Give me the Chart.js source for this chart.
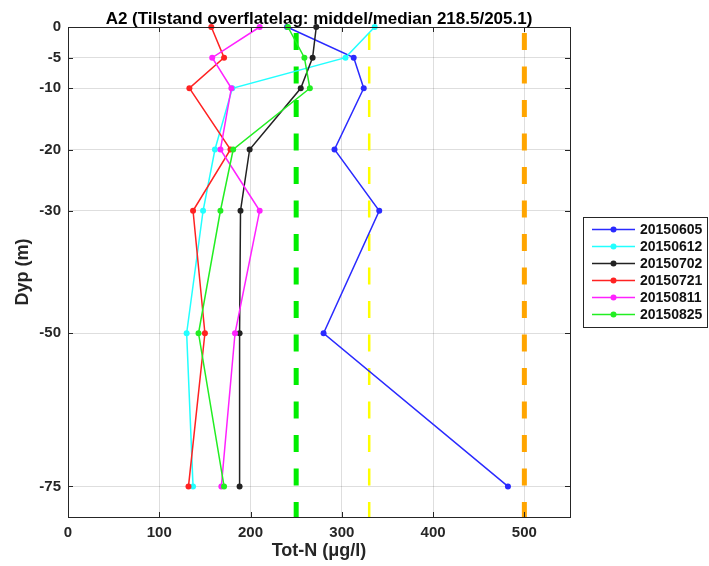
<!DOCTYPE html>
<html>
<head>
<meta charset="utf-8">
<script src="https://cdn.jsdelivr.net/npm/chart.js@4"></script>
<style>
  body { margin: 0; background: #fff; }
  canvas { display: block; }
</style>
</head>
<body>
<canvas id="chart" width="709" height="566"></canvas>
<script>
const depths = [0, -5, -10, -20, -30, -50, -75];
const dates = ["20150605", "20150612", "20150702", "20150721", "20150811", "20150825"];
const s20150605 = [240, 313, 324, 292, 341, 280, 482];
const s20150612 = [336, 304, 180, 161, 148, 130, 137];
const s20150702 = [272, 268, 255, 199, 189, 188, 188];
const s20150721 = [157, 171, 133, 178, 137, 150, 132];
const s20150811 = [210, 158, 179, 167, 210, 183, 168];
const s20150825 = [241, 259, 265, 181, 167, 143, 171];
const limits = [250, 330, 500];
const xTicks = [0, 100, 200, 300, 400, 500];
const yTicks = [-75, -50, -30, -20, -10, -5, 0];

const seriesValues = [s20150605, s20150612, s20150702, s20150721, s20150811, s20150825];
const colors = ["#2a2aff", "#22ffff", "#222222", "#ff2222", "#ff22ff", "#22ee22"];
const limitColors = ["#00ee00", "#ffff00", "#ffa500"];
const limitWidths = [5, 2.5, 5];
const fontFamily = '"Liberation Sans", Arial, Helvetica, sans-serif';

const datasets = [];
seriesValues.forEach((vals, i) => {
  datasets.push({
    label: dates[i],
    data: vals.map((v, k) => ({ x: v, y: depths[k] })),
    showLine: true,
    clip: false,
    borderColor: colors[i],
    backgroundColor: colors[i],
    borderWidth: 1.5,
    pointRadius: 3,
    pointBorderWidth: 0,
    order: 10 - i,
  });
});
limits.forEach((v, i) => {
  datasets.push({
    label: "limit" + v,
    data: [{ x: v, y: 0 }, { x: v, y: -80 }],
    showLine: true,
    borderColor: limitColors[i],
    borderWidth: limitWidths[i],
    borderDash: [17, 16.5],
    borderDashOffset: 27.5,
    pointRadius: 0,
    order: 100,
  });
});

// frame, inside ticks, titles and legend
const decorations = {
  id: "decorations",
  afterDraw(chart) {
    const ctx = chart.ctx;
    const a = chart.chartArea;
    const xs = chart.scales.x;
    const ys = chart.scales.y;
    ctx.save();
    ctx.strokeStyle = "#262626";
    ctx.lineWidth = 1;
    ctx.strokeRect(Math.round(a.left) + 0.5, Math.round(a.top) + 0.5,
      Math.round(a.right - a.left), Math.round(a.bottom - a.top));
    ctx.beginPath();
    xTicks.forEach((t) => {
      const px = Math.round(xs.getPixelForValue(t)) + 0.5;
      ctx.moveTo(px, a.bottom); ctx.lineTo(px, a.bottom - 5);
      ctx.moveTo(px, a.top); ctx.lineTo(px, a.top + 5);
    });
    yTicks.forEach((t) => {
      const py = Math.round(ys.getPixelForValue(t)) + 0.5;
      ctx.moveTo(a.left, py); ctx.lineTo(a.left + 5, py);
      ctx.moveTo(a.right, py); ctx.lineTo(a.right - 5, py);
    });
    ctx.stroke();

    // title
    ctx.fillStyle = "#000";
    ctx.font = "bold 17px " + fontFamily;
    ctx.textAlign = "center";
    ctx.textBaseline = "middle";
    ctx.fillText("A2 (Tilstand overflatelag: middel/median 218.5/205.1)", (a.left + a.right) / 2, 19);

    // axis titles
    ctx.fillStyle = "#262626";
    ctx.font = "bold 18px " + fontFamily;
    ctx.fillText("Tot-N (\u03bcg/l)", (a.left + a.right) / 2, 551);
    ctx.save();
    ctx.translate(23, (a.top + a.bottom) / 2);
    ctx.rotate(-Math.PI / 2);
    ctx.fillText("Dyp (m)", 0, 0);
    ctx.restore();

    // legend
    const lx = 583, ly = 217, lw = 124, lh = 110;
    ctx.fillStyle = "#fff";
    ctx.fillRect(lx, ly, lw, lh);
    ctx.strokeStyle = "#262626";
    ctx.strokeRect(lx + 0.5, ly + 0.5, lw, lh);
    ctx.font = "bold 14px " + fontFamily;
    ctx.textAlign = "left";
    dates.forEach((d, i) => {
      const y = ly + 12.5 + i * 17;
      ctx.strokeStyle = colors[i];
      ctx.lineWidth = 1.5;
      ctx.beginPath();
      ctx.moveTo(592, y); ctx.lineTo(635, y);
      ctx.stroke();
      ctx.fillStyle = colors[i];
      ctx.beginPath();
      ctx.arc(613.5, y, 3, 0, Math.PI * 2);
      ctx.fill();
      ctx.fillStyle = "#111";
      ctx.fillText(d, 640, y + 1);
    });
    ctx.restore();
  },
};

new Chart(document.getElementById("chart"), {
  type: "scatter",
  data: { datasets },
  options: {
    responsive: false,
    animation: false,
    layout: { padding: { left: 0, right: 139, top: 27, bottom: 0 } },
    plugins: { legend: { display: false }, tooltip: { enabled: false } },
    scales: {
      x: {
        type: "linear",
        min: 0,
        max: 550,
        afterBuildTicks: (s) => { s.ticks = xTicks.map((v) => ({ value: v })); },
        afterFit: (s) => { s.height = 49; },
        border: { display: false },
        grid: { color: "rgba(0,0,0,0.13)", drawTicks: false },
        ticks: { padding: 7, color: "#262626", font: { family: fontFamily, size: 15, weight: "bold" } },
      },
      y: {
        type: "linear",
        min: -80,
        max: 0,
        afterBuildTicks: (s) => { s.ticks = yTicks.map((v) => ({ value: v })); },
        afterFit: (s) => { s.width = 68; },
        border: { display: false },
        grid: { color: "rgba(0,0,0,0.13)", drawTicks: false },
        ticks: { padding: 7, color: "#262626", font: { family: fontFamily, size: 15, weight: "bold" } },
      },
    },
  },
  plugins: [decorations],
});
</script>
</body>
</html>
